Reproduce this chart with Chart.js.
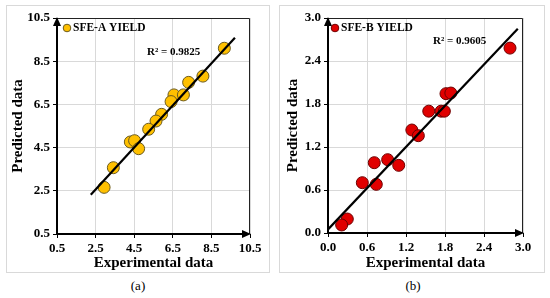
<!DOCTYPE html>
<html>
<head>
<meta charset="utf-8">
<script src="https://cdn.jsdelivr.net/npm/chart.js@4/dist/chart.umd.min.js"></script>
<style>
  body { margin: 0; width: 550px; height: 298px; background: #fff; position: relative; overflow: hidden; font-family: "Liberation Serif", serif; }
  .box { position: absolute; border: 1px solid #d9d9d9; box-sizing: border-box; }
  canvas { position: absolute; top: 0; }
  .cap { position: absolute; top: 278px; width: 40px; text-align: center; font-size: 13px; color: #000; }
</style>
</head>
<body>
<div class="box" style="left:6px;top:5px;width:264px;height:268px"></div>
<div class="box" style="left:279px;top:5px;width:266px;height:268px"></div>
<canvas id="chartA" width="275" height="275" style="left:0"></canvas>
<canvas id="chartB" width="275" height="275" style="left:275px"></canvas>
<div class="cap" style="left:118px">(a)</div>
<div class="cap" style="left:393px">(b)</div>
<script>
// panel (a) - SFE-A yield
const expA  = [9.17, 8.06, 7.32, 6.56, 7.05, 6.41, 5.92, 5.63, 5.25, 4.30, 4.52, 4.73, 3.42, 2.94];
const predA = [9.10, 7.81, 7.52, 6.94, 6.94, 6.63, 6.04, 5.73, 5.35, 4.76, 4.82, 4.45, 3.57, 2.66];
const trendAx = [2.25, 9.72];
const trendAy = [2.32, 9.59];
const ticksA = [0.5, 2.5, 4.5, 6.5, 8.5, 10.5];

// panel (b) - SFE-B yield
const expB  = [2.80, 1.815, 1.89, 1.55, 1.74, 1.79, 1.29, 1.39, 0.712, 0.918, 1.088, 0.528, 0.743, 0.297, 0.21];
const predB = [2.58, 1.944, 1.953, 1.70, 1.70, 1.70, 1.437, 1.358, 0.981, 1.023, 0.944, 0.702, 0.679, 0.195, 0.112];
const trendBx = [0.0, 2.92];
const trendBy = [0.05, 2.85];
const ticksB = [0.0, 0.6, 1.2, 1.8, 2.4, 3.0];

const FONT = '"Liberation Serif", "Times New Roman", serif';

// plot frame, arrows on the axes, legend and the R² note
const framePlugin = {
  id: 'frame',
  beforeDatasetsDraw(chart) {
    const { ctx, chartArea: a } = chart;
    ctx.save();
    ctx.strokeStyle = '#222';
    ctx.lineWidth = 1;
    ctx.beginPath();
    ctx.moveTo(a.left, a.top + 0.5);
    ctx.lineTo(a.right - 0.5, a.top + 0.5);
    ctx.lineTo(a.right - 0.5, a.bottom);
    ctx.stroke();
    ctx.strokeStyle = '#000';
    ctx.lineWidth = 2;
    ctx.beginPath();
    ctx.moveTo(a.left, a.top + 4);
    ctx.lineTo(a.left, a.bottom);
    ctx.lineTo(a.right - 4, a.bottom);
    ctx.stroke();
    ctx.fillStyle = '#000';
    ctx.beginPath();
    ctx.moveTo(a.left, a.top - 1);
    ctx.lineTo(a.left - 4, a.top + 8);
    ctx.lineTo(a.left + 4, a.top + 8);
    ctx.closePath();
    ctx.fill();
    ctx.beginPath();
    ctx.moveTo(a.right + 1, a.bottom);
    ctx.lineTo(a.right - 8, a.bottom - 4);
    ctx.lineTo(a.right - 8, a.bottom + 4);
    ctx.closePath();
    ctx.fill();
    ctx.restore();
  },
  afterDraw(chart, args, opts) {
    const { ctx, scales, chartArea: a } = chart;
    const ds = chart.data.datasets[0];
    ctx.save();
    // legend
    ctx.beginPath();
    ctx.arc(a.left + opts.legX, a.top + 10, 3.8, 0, Math.PI * 2);
    ctx.fillStyle = ds.backgroundColor;
    ctx.fill();
    ctx.lineWidth = 1;
    ctx.strokeStyle = ds.borderColor;
    ctx.stroke();
    ctx.fillStyle = '#000';
    ctx.textBaseline = 'middle';
    ctx.font = 'bold 11.5px ' + FONT;
    ctx.fillText(ds.label, a.left + opts.legX + 6, a.top + 10.5);
    // R² note
    ctx.font = 'bold 11px ' + FONT;
    ctx.fillText(opts.text, scales.x.getPixelForValue(opts.x), scales.y.getPixelForValue(opts.y));
    ctx.restore();
  }
};

function makeChart(id, cfg) {
  const pts = cfg.xs.map((x, i) => ({ x: x, y: cfg.ys[i] }));
  const line = cfg.tx.map((x, i) => ({ x: x, y: cfg.ty[i] }));
  const tickOpts = (ticks) => ({
    min: ticks[0],
    max: ticks[ticks.length - 1],
    afterBuildTicks: s => { s.ticks = ticks.map(v => ({ value: v })); },
    ticks: { color: '#000', padding: 3, font: { family: FONT, size: 13, weight: 'bold' }, callback: v => Number(v).toFixed(1) },
    grid: { color: '#d9d9d9', lineWidth: 1, tickColor: '#000', tickLength: 4 },
    border: { display: false }
  });
  const xs = tickOpts(cfg.ticks);
  xs.type = 'linear';
  xs.position = 'bottom';
  xs.title = { display: true, text: 'Experimental data', color: '#000', padding: { top: 0, bottom: 3 }, font: { family: FONT, size: 15, weight: 'bold' } };
  xs.afterFit = s => { s.height = cfg.xh; };
  const ys = tickOpts(cfg.ticks);
  ys.type = 'linear';
  ys.title = { display: true, text: 'Predicted data', color: '#000', padding: { top: 9, bottom: 0 }, font: { family: FONT, size: 15, weight: 'bold' } };
  ys.afterFit = s => { s.width = cfg.yw; };

  return new Chart(document.getElementById(id), {
    type: 'scatter',
    data: {
      datasets: [{
        label: cfg.label,
        data: pts,
        backgroundColor: cfg.fill,
        borderColor: cfg.edge,
        borderWidth: 1,
        pointRadius: 6,
        order: 1
      }, {
        type: 'line',
        label: 'trend',
        data: line,
        borderColor: '#000',
        borderWidth: 2.2,
        pointRadius: 0,
        fill: false,
        order: 0
      }]
    },
    options: {
      responsive: false,
      animation: false,
      layout: { autoPadding: false, padding: cfg.pad },
      plugins: {
        legend: { display: false },
        tooltip: { enabled: false },
        frame: { text: cfg.r2, x: cfg.r2x, y: cfg.r2y, legX: cfg.legX }
      },
      scales: { x: xs, y: ys }
    },
    plugins: [framePlugin]
  });
}

makeChart('chartA', {
  xs: expA, ys: predA, tx: trendAx, ty: trendAy, ticks: ticksA,
  label: 'SFE-A YIELD', fill: '#FFC000', edge: '#6b5a1e',
  r2: 'R² = 0.9825', r2x: 5.16, r2y: 8.93, legX: 10,
  pad: { left: 0, top: 18, right: 25, bottom: 0 }, yw: 57, xh: 41
});

makeChart('chartB', {
  xs: expB, ys: predB, tx: trendBx, ty: trendBy, ticks: ticksB,
  label: 'SFE-B YIELD', fill: '#E00000', edge: '#6e0000',
  r2: 'R² = 0.9605', r2x: 1.615, r2y: 2.68, legX: 7,
  pad: { left: 0, top: 18, right: 27, bottom: 0 }, yw: 53, xh: 42
});
</script>
</body>
</html>
